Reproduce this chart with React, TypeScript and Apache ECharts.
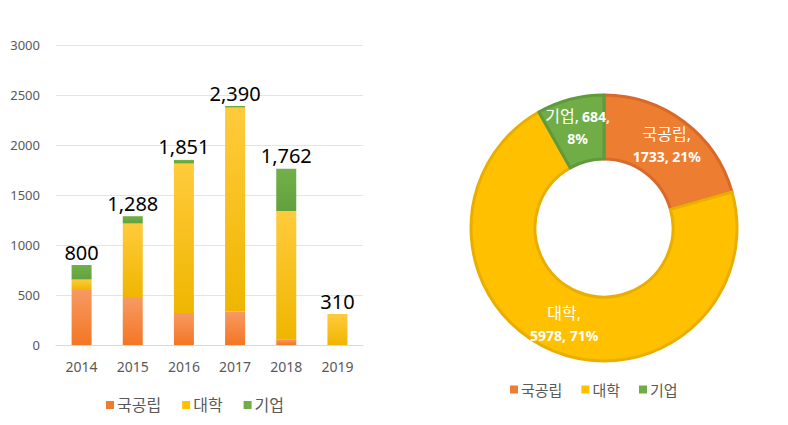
import React, { useEffect, useRef } from "react";
import * as echarts from "echarts";

const years = ["2014", "2015", "2016", "2017", "2018", "2019"];
const national = [550, 470, 320, 335, 58, 0];
const university = [105, 745, 1495, 2040, 1283, 310];
const company = [145, 73, 36, 15, 421, 0];
const seriesNames = ["국공립", "대학", "기업"];
const pieValues = [1733, 5978, 684];

const baseColors = ["#ED7D31", "#FFC000", "#70AD47"];
const borderColors = ["#D9692A", "#E9AE00", "#5F9A3B"];

const FONT = "'Noto Sans', 'Noto Sans CJK KR', sans-serif";

function grad(top: string, bottom: string) {
  return new echarts.graphic.LinearGradient(0, 0, 0, 1, [
    { offset: 0, color: top },
    { offset: 1, color: bottom },
  ]);
}

export default function App() {
  const ref = useRef<HTMLDivElement>(null);
  useEffect(() => {
    if (!ref.current) return;
    const chart = echarts.init(ref.current, null, { renderer: "svg" });
    const totals = years.map((_, i) => national[i] + university[i] + company[i]);
    const barGrads = [
      grad("#F69A62", "#F47624"),
      grad("#FFCB3C", "#EFB600"),
      grad("#72B04A", "#62A13C"),
    ];
    const barData = [national, university, company];
    const legendItems = seriesNames.map((n, i) => ({ name: n, itemStyle: { color: baseColors[i] } }));
    const option: any = {
      animation: false,
      textStyle: { fontFamily: FONT },
      grid: { left: 56, right: 425, top: 45, bottom: 80, containLabel: false },
      xAxis: {
        type: "category",
        data: years,
        axisLine: { lineStyle: { color: "#D9D9D9" } },
        axisTick: { show: false },
        axisLabel: { color: "#595959", fontSize: 14, margin: 14, fontFamily: FONT },
      },
      yAxis: {
        type: "value",
        min: 0,
        max: 3000,
        interval: 500,
        axisLine: { show: false },
        axisTick: { show: false },
        splitLine: { lineStyle: { color: "#E4E4E4" } },
        axisLabel: {
          color: "#595959",
          fontSize: 13,
          margin: 16,
          fontFamily: FONT,
          formatter: (v: number) => String(v),
        },
      },
      legend: [
        {
          left: 101,
          top: 392,
          itemWidth: 8,
          itemHeight: 8,
          itemGap: 21,
          icon: "rect",
          textStyle: { color: "#595959", fontSize: 16, fontFamily: FONT, padding: [0, 0, 0, -2] },
          data: legendItems,
          selectedMode: false,
        },
        {
          left: 505,
          top: 377,
          itemWidth: 8,
          itemHeight: 8,
          itemGap: 19,
          icon: "rect",
          textStyle: { color: "#595959", fontSize: 15, fontFamily: FONT, padding: [0, 0, 0, -2] },
          data: legendItems,
          selectedMode: false,
        },
      ],
      series: [
        ...seriesNames.map((n, i) => ({
          type: "bar",
          name: n,
          stack: "total",
          barWidth: 20,
          data: barData[i],
          itemStyle: { color: barGrads[i] },
        })),
        {
          type: "bar",
          name: "합계",
          stack: "total",
          barWidth: 20,
          silent: true,
          data: years.map(() => 0),
          itemStyle: { color: "transparent" },
          label: {
            show: true,
            position: "top",
            distance: 3,
            color: "#000000",
            fontSize: 20,
            fontFamily: FONT,
            formatter: (p: any) => totals[p.dataIndex].toLocaleString("en-US"),
          },
        },
        {
          type: "pie",
          name: "pie",
          center: [604, 228],
          radius: [69, 133],
          startAngle: 90,
          clockwise: true,
          percentPrecision: 0,
          data: seriesNames.map((n, i) => ({
            name: n,
            value: pieValues[i],
            itemStyle: { color: baseColors[i], borderColor: borderColors[i], borderWidth: 3 },
          })),
          label: {
            show: true,
            position: "inside",
            color: "#FFFFFF",
            fontFamily: FONT,
            formatter: (p: any) => {
              if (p.name === "기업") {
                return `{k|${p.name},} {n|${p.value},}\n{n|${Math.round(p.percent)}%}`;
              }
              return `{k|${p.name},}\n{n|${p.value}, ${Math.round(p.percent)}%}`;
            },
            rich: {
              k: { color: "#FFFFFF", fontSize: 16, fontWeight: "normal", lineHeight: 22, fontFamily: FONT },
              n: { color: "#FFFFFF", fontSize: 14, fontWeight: "bold", lineHeight: 22, fontFamily: FONT },
            },
          },
          labelLine: { show: false },
          emphasis: { disabled: true },
        },
      ],
    };
    chart.setOption(option);
    return () => chart.dispose();
  }, []);
  return (
    <div
      ref={ref}
      style={{ position: "fixed", left: 0, top: 0, width: 788, height: 425, background: "#FFFFFF" }}
    />
  );
}
